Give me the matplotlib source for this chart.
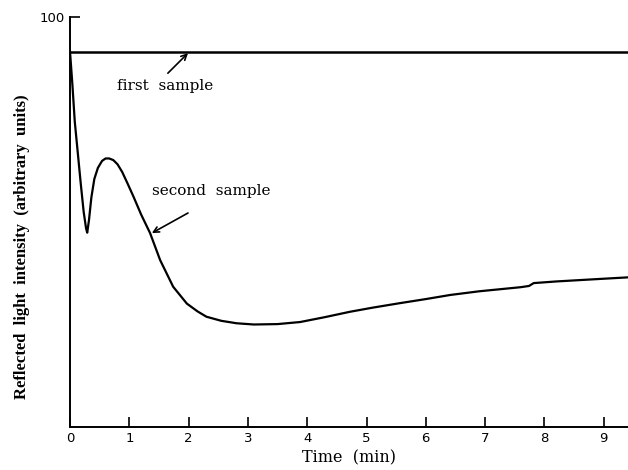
import matplotlib
matplotlib.use("Agg")
import matplotlib.pyplot as plt

firstTime = [0.0, 9.41]
firstValue = [91.5, 91.5]

secondTime = [0.0, 0.04, 0.08, 0.13, 0.18, 0.23, 0.27, 0.29, 0.32, 0.36, 0.41, 0.47,
              0.54, 0.6, 0.66, 0.73, 0.8, 0.88, 0.97, 1.07, 1.2, 1.35, 1.52, 1.74, 1.97,
              2.15, 2.3, 2.55, 2.81, 3.1, 3.5, 3.88, 4.3, 4.72, 5.1, 5.56, 6.0,
              6.41, 6.9, 7.25, 7.6, 7.74, 7.82, 8.2, 8.8, 9.41]
secondValue = [91.5, 83.5, 74.5, 67.0, 59.5, 52.5, 48.5, 47.4, 50.5, 56.0, 60.5, 63.2,
               64.9, 65.5, 65.5, 65.1, 64.1, 62.2, 59.4, 56.2, 51.8, 47.3, 40.7, 34.2, 30.1,
               28.2, 26.9, 25.9, 25.3, 25.0, 25.1, 25.6, 26.8, 28.1, 29.1, 30.2, 31.2,
               32.2, 33.1, 33.6, 34.1, 34.4, 35.1, 35.5, 36.0, 36.5]

fig = plt.figure(figsize=(6.28, 4.70), dpi=100)
ax = fig.add_axes([0.1115, 0.0915, 0.8885, 0.8723])

ax.plot(firstTime, firstValue, color="black", lw=1.8)
ax.plot(secondTime, secondValue, color="black", lw=1.6)

ax.set_xlim(0, 9.41)
ax.set_ylim(0, 100)

ax.spines["top"].set_visible(False)
ax.spines["right"].set_visible(False)
ax.spines["left"].set_linewidth(1.4)
ax.spines["bottom"].set_linewidth(1.4)

ax.set_xticks(range(0, 10))
ax.set_xticklabels([str(i) for i in range(0, 10)])
ax.set_yticks([100])
ax.set_yticklabels(["100"])
ax.tick_params(direction="in", length=7, width=1.2, labelsize=9.5)
for lab in ax.get_xticklabels() + ax.get_yticklabels():
    lab.set_fontfamily("DejaVu Sans")

ax.set_xlabel("Time  (min)", family="DejaVu Serif", fontsize=11.5, labelpad=3)
ax.set_ylabel("Reflected  light  intensity  (arbitrary  units)", family="Liberation Serif",
              fontweight="bold", fontsize=12)
ax.yaxis.set_label_coords(-0.072, 0.44)

# labels with arrows
ax.text(1.6, 83.2, "first  sample", family="DejaVu Serif", fontsize=11,
        ha="center", va="center")
ax.annotate("", xy=(1.99, 91.2), xytext=(1.65, 86.3),
            arrowprops=dict(arrowstyle="->", color="black", lw=1.2,
                            shrinkA=0, shrinkB=0))
ax.text(2.39, 57.6, "second  sample", family="DejaVu Serif", fontsize=11,
        ha="center", va="center")
ax.annotate("", xy=(1.38, 47.3), xytext=(1.99, 52.2),
            arrowprops=dict(arrowstyle="->", color="black", lw=1.2,
                            shrinkA=0, shrinkB=0))

fig.savefig("out.png", dpi=100)
